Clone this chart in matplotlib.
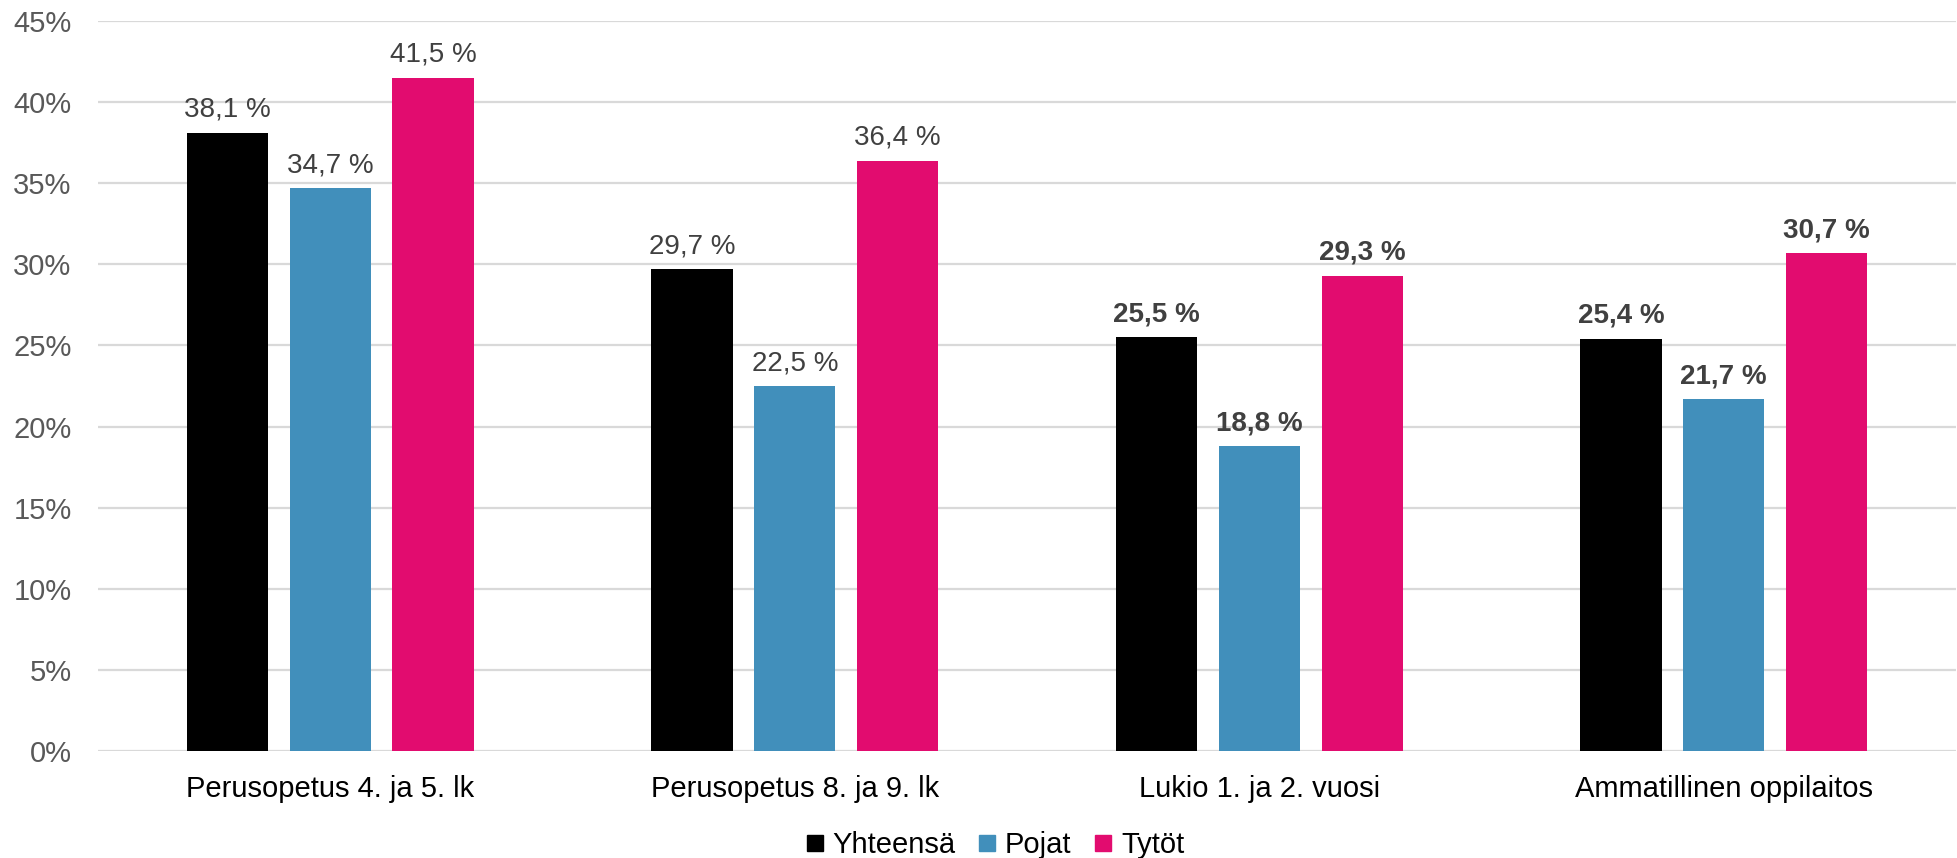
import matplotlib.pyplot as plt
import numpy as np
from matplotlib.lines import Line2D

plt.rcParams['font.family'] = ['Liberation Sans', 'DejaVu Sans']

categories = ["Perusopetus 4. ja 5. lk", "Perusopetus 8. ja 9. lk",
              "Lukio 1. ja 2. vuosi", "Ammatillinen oppilaitos"]
series_names = ["Yhteensä", "Pojat", "Tytöt"]
yhteensa = [38.1, 29.7, 25.5, 25.4]
pojat = [34.7, 22.5, 18.8, 21.7]
tytot = [41.5, 36.4, 29.3, 30.7]
bold_groups = [False, False, True, True]
y_ticks = [0, 5, 10, 15, 20, 25, 30, 35, 40, 45]

colors = ["#000000", "#418FBB", "#E20C6F"]

fig = plt.figure(figsize=(19.58, 8.58), dpi=100)
ax = fig.add_axes([98 / 1958, 1 - 751 / 858, 1 - 98 / 1958 - 0.001, (751 - 21) / 858])

x = np.arange(len(categories))
width = 0.175
step = 0.2215
for i, (name, vals) in enumerate(zip(series_names, [yhteensa, pojat, tytot])):
    xs = x + (i - 1) * step
    ax.bar(xs, vals, width, color=colors[i], zorder=3)
    for xi, v, b in zip(xs, vals, bold_groups):
        ax.annotate(f"{v:.1f} %".replace(".", ","), (xi, v), xytext=(0, 11.5),
                    textcoords="offset points", ha="center", va="baseline",
                    fontsize=20, color="#404040",
                    fontweight="bold" if b else "normal")

ax.set_xlim(-0.5, len(categories) - 0.5)
ax.set_ylim(0, 45)
ax.set_yticks(y_ticks)
ax.set_yticklabels([f"{t}%" for t in y_ticks])
ax.set_xticks(x)
ax.set_xticklabels(categories)
ax.tick_params(axis="y", length=0, labelsize=21, labelcolor="#595959", pad=19)
ax.tick_params(axis="x", length=0, labelsize=21, labelcolor="#000000", pad=17)
ax.grid(axis="y", color="#D9D9D9", linewidth=1.6, zorder=0)
for s in ax.spines.values():
    s.set_visible(False)

handles = [Line2D([], [], marker="s", linestyle="none", markersize=11,
                  markerfacecolor=c, markeredgecolor=c) for c in colors]
fig.legend(handles, series_names, loc="center", bbox_to_anchor=(995 / 1958, 1 - 845 / 858),
           ncol=3, frameon=False, fontsize=21, handlelength=0.6, handletextpad=0.3,
           columnspacing=0.8)

fig.savefig("out.png", dpi=100)
